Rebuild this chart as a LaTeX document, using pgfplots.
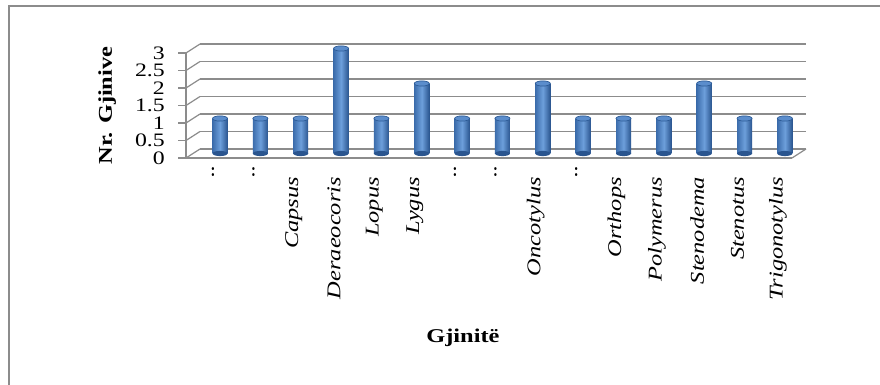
\documentclass[border=0pt]{standalone}
\usepackage{fontspec}
\setmainfont{Liberation Serif}
\usepackage{graphicx}
\usepackage{pgfplots}
\usepackage{pgfplotstable}
\pgfplotsset{compat=1.18}
\definecolor{gridgray}{HTML}{8C8C8C}
\definecolor{barleft}{HTML}{3C6DAC}
\definecolor{barmid}{HTML}{6D9FDB}
\definecolor{barright}{HTML}{2A558F}
\definecolor{capfill}{HTML}{5B8DCC}
\definecolor{capdraw}{HTML}{2D5B96}
\newcommand\xl[1]{\scalebox{1.25}[1]{\itshape\fontsize{19.5}{20}\selectfont #1}}
\newcommand\yl[1]{\scalebox{1.25}[1]{\fontsize{19}{20}\selectfont #1}}
\newcommand\bl[1]{\scalebox{1.25}[1]{\bfseries\fontsize{19.5}{20}\selectfont #1}}
\pgfdeclareplotmark{cyltop}{\pgfpathellipse{\pgfpointorigin}{\pgfpoint{7.5pt}{0pt}}{\pgfpoint{0pt}{2.6pt}}\pgfusepathqfillstroke}
\pgfdeclareplotmark{cylbase}{\pgfpathellipse{\pgfpointorigin}{\pgfpoint{7.5pt}{0pt}}{\pgfpoint{0pt}{2.6pt}}\pgfusepathqfill}

\pgfplotstableread{
x y
0 1
1 1
2 1
3 3
4 1
5 2
6 1
7 1
8 2
9 1
10 1
11 1
12 2
13 1
14 1
}\datatable

\pgfplotstableread{
x y
0 0
1 0
2 0
3 0
4 0
5 0
6 0
7 0
8 0
9 0
10 0
11 0
12 0
13 0
14 0
}\basetable

\pgfplotsset{chartaxis/.style={scale only axis, width=606pt, height=105pt,
  xmin=-0.67, xmax=14.35, ymin=0, ymax=3, anchor=south west, clip=false},
  cyl/.style={ybar, bar shift=0pt, bar width=15pt, draw=none,
  left color=barleft, right color=barright, middle color=barmid, forget plot}}

\begin{document}
\begin{tikzpicture}
\useasboundingbox (0,0) rectangle (880pt,385pt);
\fill[white] (0,0) rectangle (880pt,385pt);
\draw[gridgray, line width=1.5pt] (9pt,0) -- (9pt,379pt) -- (880pt,379pt);

% back wall with grid lines
\begin{axis}[chartaxis, at={(200pt,236pt)},
  axis line style={draw=none}, ymajorgrids,
  ytick={0,0.5,1,1.5,2,2.5,3}, yticklabels={}, xtick=\empty,
  major tick length=0pt,
  grid style={gridgray, line width=1.2pt}]
\addplot[draw=none] coordinates {(0,0)};
\end{axis}

% front plane: axis lines, ticks, labels
\begin{axis}[chartaxis, at={(186pt,227pt)},
  axis x line*=bottom, axis y line*=left,
  axis line style={gridgray, line width=1.2pt, -},
  ytick={0,0.5,1,1.5,2,2.5,3},
  yticklabels={\yl{0},\yl{0.5},\yl{1},\yl{1.5},\yl{2},\yl{2.5},\yl{3}},
  tick align=outside, major tick length=8pt,
  ytick style={gridgray, line width=1.2pt},
  xtick={0,1,...,14}, xtick style={draw=none},
  xticklabels={\makebox[0pt][l]{\xl{..}},\makebox[0pt][l]{\xl{..}},\xl{Capsus},\xl{Deraeocoris},\xl{Lopus},\xl{Lygus},\makebox[0pt][l]{\xl{..}},\makebox[0pt][l]{\xl{..}},\xl{Oncotylus},\makebox[0pt][l]{\xl{..}},\xl{Orthops},\xl{Polymerus},\xl{Stenodema},\xl{Stenotus},\xl{Trigonotylus}},
  xticklabel style={rotate=90, anchor=east, inner sep=0pt},
  xticklabel shift=11pt,
  yticklabel style={anchor=east, inner sep=0pt, xshift=-13pt},
  xlabel={\bl{Gjinitë}}, ylabel={\bl{Nr. Gjinive}},
  xlabel style={at={(axis description cs:0.457,-1.714)}, anchor=center},
  ylabel style={at={(axis description cs:-0.130,0.5)}, anchor=center, rotate=0}]
\addplot[draw=none] coordinates {(0,0)};
\pgfplotsinvokeforeach{0,0.5,1,1.5,2,2.5,3}{
  \draw[gridgray, line width=1.2pt] (axis cs:-0.67,#1) -- ++(14pt,9pt);
}
\draw[gridgray, line width=1.2pt] (axis cs:14.35,0) -- ++(14pt,9pt);
\end{axis}

% bars (cylinders)
\begin{axis}[chartaxis, at={(193pt,231.5pt)}, hide axis]
\addplot[only marks, mark=cylbase, mark options={fill=barright}, forget plot] table[x=x,y=y] {\basetable};
\addplot[cyl] coordinates {(0,1)};
\addplot[cyl] coordinates {(1,1)};
\addplot[cyl] coordinates {(2,1)};
\addplot[cyl] coordinates {(3,3)};
\addplot[cyl] coordinates {(4,1)};
\addplot[cyl] coordinates {(5,2)};
\addplot[cyl] coordinates {(6,1)};
\addplot[cyl] coordinates {(7,1)};
\addplot[cyl] coordinates {(8,2)};
\addplot[cyl] coordinates {(9,1)};
\addplot[cyl] coordinates {(10,1)};
\addplot[cyl] coordinates {(11,1)};
\addplot[cyl] coordinates {(12,2)};
\addplot[cyl] coordinates {(13,1)};
\addplot[cyl] coordinates {(14,1)};
\addplot[only marks, mark=cyltop, mark options={fill=capfill, draw=capdraw, line width=0.7pt}] table[x=x,y=y] {\datatable};
\end{axis}
\end{tikzpicture}
\end{document}
